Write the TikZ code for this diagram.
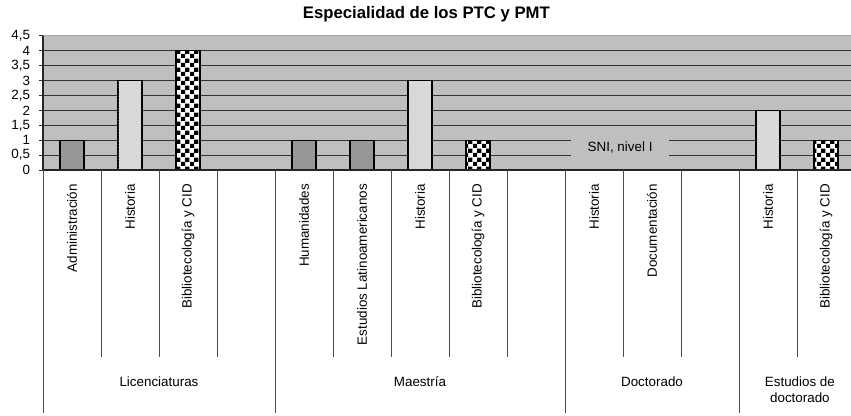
\documentclass[tikz,border=0pt]{standalone}
\usepackage{fontspec}
\setmainfont{Liberation Sans}
\usetikzlibrary{patterns}

\definecolor{plotbg}{HTML}{BFBFBF}
\definecolor{barfill}{HTML}{979797}
\definecolor{lightfill}{HTML}{DADADA}

% large checks and fine dots for the bars
\pgfdeclarepatternformonly{bigchecks}{\pgfqpoint{0pt}{0pt}}{\pgfqpoint{8.6pt}{8.6pt}}{\pgfqpoint{8.6pt}{8.6pt}}{%
    \pgfpathrectangle{\pgfqpoint{0pt}{0pt}}{\pgfqpoint{4.3pt}{4.3pt}}%
    \pgfpathrectangle{\pgfqpoint{4.3pt}{4.3pt}}{\pgfqpoint{4.3pt}{4.3pt}}%
    \pgfusepath{fill}}
\pgfdeclarepatternformonly{finedots}{\pgfqpoint{0pt}{0pt}}{\pgfqpoint{3pt}{3pt}}{\pgfqpoint{3pt}{3pt}}{%
    \pgfpathcircle{\pgfqpoint{1.5pt}{1.5pt}}{0.6pt}%
    \pgfusepath{fill}}

\begin{document}
\begin{tikzpicture}[
        x = 58pt, y = 29.78pt,
        font = \fontsize{13.4}{16}\selectfont,
        grid/.style = {black!80, line width=1pt},
        box/.style = {draw=black, line width=1.1pt},
        plain/.style = {box, fill=barfill},
        speckled/.style = {box, fill=lightfill,
            postaction={pattern=finedots, pattern color=black!22}},
        checks/.style = {box, fill=white,
            postaction={pattern=bigchecks, pattern color=black}},
        catlabel/.style = {rotate=90, anchor=east, inner sep=0pt},
        grouplabel/.style = {align=center, inner sep=0pt},
        sep/.style = {black!70, line width=0.8pt},
    ]
    \useasboundingbox (-0.741,-8.227) rectangle (13.931,5.709);
    \clip (-0.741,-8.227) rectangle (13.931,5.709);

    \node[font=\fontsize{16.7}{20}\selectfont\bfseries] (title) at (6.61,5.22)
        {Especialidad de los PTC y PMT};

    % plot area
    \fill[plotbg] (0,0) rectangle (14,4.5);
    \draw[black!35, line width=1pt] (0,4.5) -- (14,4.5);
    \foreach \v in {0.5,1,...,4}
        \draw[grid] (0,\v) -- (14,\v);

    \foreach \s/\h/\k in {0/1/plain, 1/3/speckled, 2/4/checks,
                          4/1/plain, 5/1/plain, 6/3/speckled, 7/1/checks,
                          12/2/speckled, 13/1/checks}
        \draw[\k] (\s+0.293,0) rectangle (\s+0.707,\h);

    \node[fill=plotbg, minimum width=98pt, minimum height=31pt] (sni)
        at (9.95,0.76) {SNI, nivel I};

    % axes
    \draw[black!85, line width=1.4pt] (0,4.5) -- (0,0) -- (14,0);
    \foreach \v/\t [count=\i] in {0/0, 0.5/{0,5}, 1/1, 1.5/{1,5}, 2/2,
                                  2.5/{2,5}, 3/3, 3.5/{3,5}, 4/4, 4.5/{4,5}} {
        \draw[grid] (-0.07,\v) -- (0,\v);
        \node[anchor=east, inner sep=0pt] (tick\i) at (-0.22,\v) {\t};
    }

    % categories
    \foreach \s/\t in {0/Administración, 1/Historia, 2/Bibliotecología y CID,
                       4/Humanidades, 5/Estudios Latinoamericanos, 6/Historia,
                       7/Bibliotecología y CID, 9/Historia, 10/Documentación,
                       12/Historia, 13/Bibliotecología y CID}
        \node[catlabel] (cat\s) at (\s+0.5,-0.47) {\t};

    \foreach \s in {1,2,3,5,6,7,8,10,11,13}
        \draw[sep] (\s,0) -- (\s,-6.28);
    \foreach \s in {0,4,9,12}
        \draw[sep] (\s,0) -- (\s,-8.16);

    \node[grouplabel] (lic) at (2,-7.12)   {Licenciaturas};
    \node[grouplabel] (mae) at (6.5,-7.12) {Maestría};
    \node[grouplabel] (doc) at (10.5,-7.12) {Doctorado};
    \node[grouplabel] (est) at (13.05,-7.39) {Estudios de\\doctorado};
\end{tikzpicture}
\end{document}
